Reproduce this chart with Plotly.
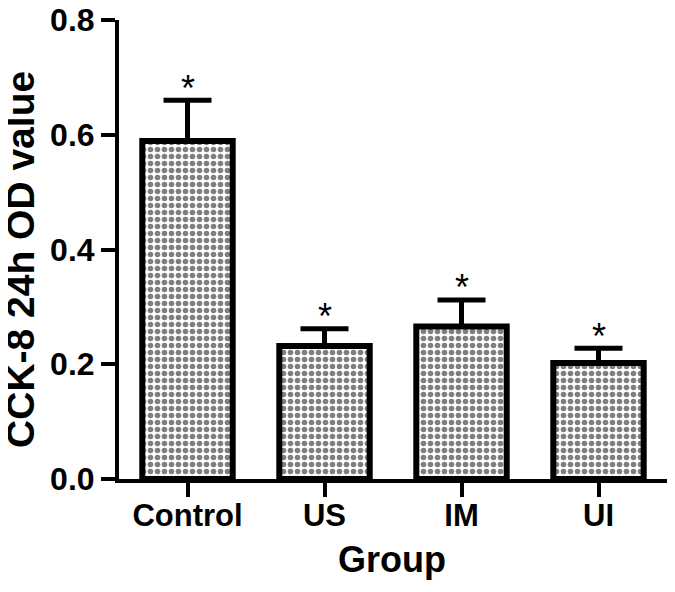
import plotly.graph_objects as go

groups = ["Control", "US", "IM", "UI"]
means = [0.589, 0.232, 0.266, 0.202]
errors = [0.071, 0.030, 0.046, 0.026]
sig_marks = ["*", "*", "*", "*"]
y_ticks = [0.0, 0.2, 0.4, 0.6, 0.8]
y_tick_labels = ["0.0", "0.2", "0.4", "0.6", "0.8"]

FONT = "Liberation Sans, Arial, sans-serif"

fig = go.Figure()
fig.add_trace(go.Bar(
    x=groups, y=means, width=0.66,
    marker=dict(
        color="white",
        line=dict(color="black", width=6),
        pattern=dict(shape=".", fgcolor="black", bgcolor="white", size=7, solidity=0.5),
    ),
    error_y=dict(type="data", array=errors, arrayminus=[0]*len(errors), symmetric=False,
                 color="black", thickness=5, width=24, visible=True),
    showlegend=False,
))

annotations = [
    dict(x=g, y=m + e, xref="x", yref="y", text=s, showarrow=False,
         yanchor="middle", yshift=12, font=dict(family=FONT, size=36, color="black"))
    for g, m, e, s in zip(groups, means, errors, sig_marks)
]
annotations += [
    dict(text="<b>CCK-8 24h OD value</b>", xref="paper", yref="paper",
         x=-0.181, y=0.479, xanchor="center", yanchor="middle", textangle=-90,
         showarrow=False, font=dict(family=FONT, size=39, color="black")),
    dict(text="<b>Group</b>", xref="paper", yref="paper",
         x=0.498, y=-0.175, xanchor="center", yanchor="middle",
         showarrow=False, font=dict(family=FONT, size=36, color="black")),
]

fig.update_layout(
    width=667, height=584,
    margin=dict(l=111, r=8, t=12, b=113),
    plot_bgcolor="white", paper_bgcolor="white",
    font=dict(family=FONT, color="black"),
    annotations=annotations,
)
fig.update_xaxes(
    range=[-0.5, 3.5], showline=True, linecolor="black", linewidth=4,
    ticks="outside", ticklen=14, tickwidth=4, tickcolor="black",
    tickfont=dict(family=FONT, size=31, weight="bold"),
    ticklabelstandoff=-8,
    showgrid=False, zeroline=False, automargin=False,
)
fig.update_yaxes(
    range=[0, 0.8], tickvals=y_ticks, ticktext=y_tick_labels,
    showline=True, linecolor="black", linewidth=4,
    ticks="outside", ticklen=14, tickwidth=4, tickcolor="black",
    tickfont=dict(family=FONT, size=32, weight="bold"),
    ticklabeloverflow="allow",
    showgrid=False, zeroline=False, automargin=False,
)
fig.write_html("out.html")
